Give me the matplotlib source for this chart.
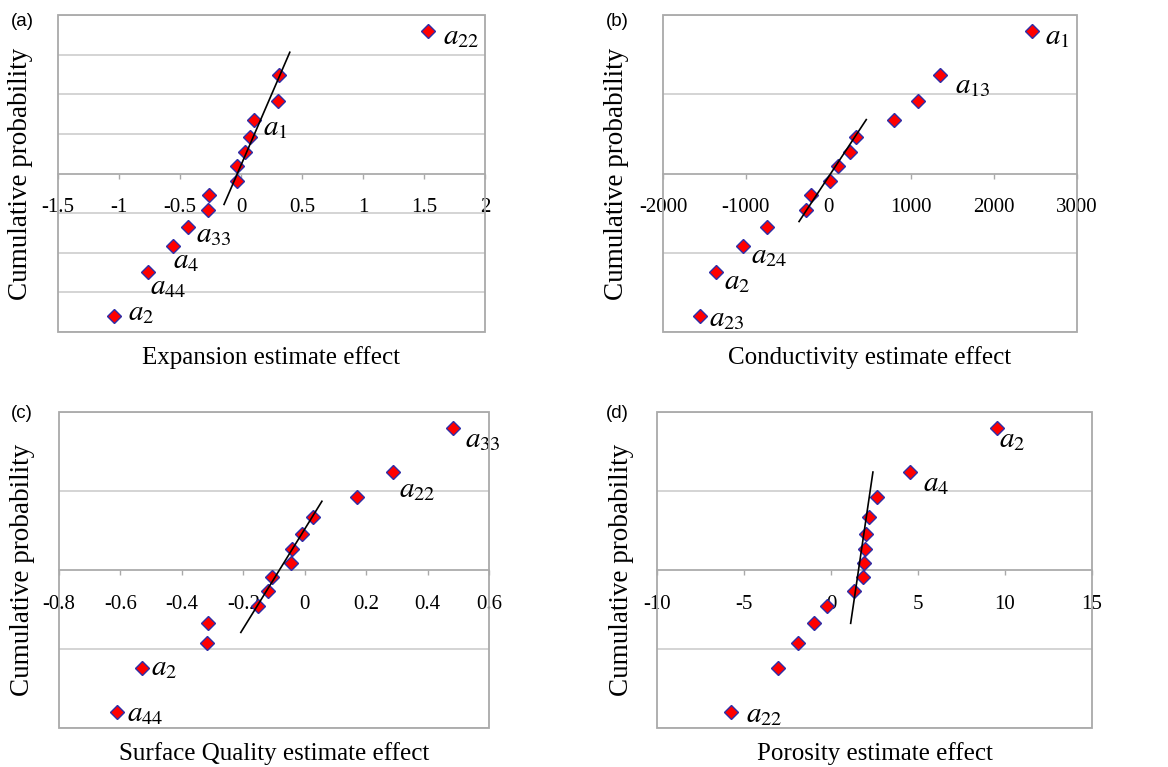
import matplotlib.pyplot as plt
from matplotlib.patches import Rectangle

plt.rcParams['font.family'] = ['Liberation Serif', 'DejaVu Serif']
plt.rcParams['mathtext.fontset'] = 'stix'
plt.rcParams['axes.unicode_minus'] = False

# %%
# Normal-score positions (same 14 ranks in every panel)
z_scores = [-1.80, -1.24, -0.92, -0.67, -0.46, -0.27, -0.09,
            0.09, 0.27, 0.46, 0.67, 0.92, 1.24, 1.80]

# Estimated effects, sorted ascending
exp_x = [-1.04, -0.765, -0.56, -0.432, -0.268, -0.26, -0.036,
         -0.030, 0.033, 0.074, 0.107, 0.306, 0.314, 1.535]
cond_x = [-1557, -1360, -1038, -748, -269, -216, 17,
          117, 255, 327, 790, 1083, 1345, 2453]
surf_x = [-0.610, -0.529, -0.317, -0.314, -0.153, -0.119, -0.106,
          -0.045, -0.042, -0.008, 0.026, 0.169, 0.2865, 0.484]
poro_x = [-5.73, -3.03, -1.90, -0.98, -0.21, 1.32, 1.84,
          1.90, 1.94, 1.99, 2.18, 2.66, 4.54, 9.52]

# Reference lines through the central effects
exp_fit_x, exp_fit_y = [-0.139, 0.40], [-0.39, 1.53]
cond_fit_x, cond_fit_y = [-357, 455], [-0.606, 0.68]
surf_fit_x, surf_fit_y = [-0.208, 0.056], [-0.79, 0.87]
poro_fit_x, poro_fit_y = [1.13, 2.41], [-0.675, 1.24]

# Labelled effects: rank index -> name
exp_labels = {13: '$a_{22}$', 10: '$a_1$', 3: '$a_{33}$', 2: '$a_4$', 1: '$a_{44}$', 0: '$a_2$'}
cond_labels = {13: '$a_1$', 12: '$a_{13}$', 2: '$a_{24}$', 1: '$a_2$', 0: '$a_{23}$'}
surf_labels = {13: '$a_{33}$', 12: '$a_{22}$', 1: '$a_2$', 0: '$a_{44}$'}
poro_labels = {13: '$a_2$', 12: '$a_4$', 0: '$a_{22}$'}

# X ticks
exp_ticks = [-1.5, -1, -0.5, 0, 0.5, 1, 1.5, 2]
exp_ticklabels = ['-1.5', '-1', '-0.5', '0', '0.5', '1', '1.5', '2']
cond_ticks = [-2000, -1000, 0, 1000, 2000, 3000]
cond_ticklabels = ['-2000', '-1000', '0', '1000', '2000', '3000']
surf_ticks = [-0.8, -0.6, -0.4, -0.2, 0, 0.2, 0.4, 0.6]
surf_ticklabels = ['-0.8', '-0.6', '-0.4', '-0.2', '0', '0.2', '0.4', '0.6']
poro_ticks = [-10, -5, 0, 5, 10, 15]
poro_ticklabels = ['-10', '-5', '0', '5', '10', '15']

# %%
# Layout (pixel based)
W, H = 1168, 767
fig = plt.figure(figsize=(W / 100, H / 100), dpi=100)


def px_axes(left, top, right, bottom):
    return fig.add_axes([left / W, 1 - bottom / H, (right - left) / W, (bottom - top) / H])


grid_c = '#c9c9c9'
frame_c = '#a9a9a9'

panels = [
    dict(box=(58, 15, 485, 332), x=exp_x, fx=exp_fit_x, fy=exp_fit_y, lab=exp_labels,
         offs={13: (15, -6), 10: (9, -8), 3: (8, -9), 2: (0, -15), 1: (2, -15), 0: (14, 3)},
         ticks=exp_ticks, tl=exp_ticklabels, ystep=0.5, letter='(a)', letter_xy=(11, 22),
         xlabel='Expansion estimate effect', ylx=-0.058),
    dict(box=(663, 15, 1077, 332), x=cond_x, fx=cond_fit_x, fy=cond_fit_y, lab=cond_labels,
         offs={13: (13, -6), 12: (15, -11), 2: (8, -10), 1: (8, -10), 0: (9, -3)},
         ticks=cond_ticks, tl=cond_ticklabels, ystep=1.0, letter='(b)', letter_xy=(606, 22),
         xlabel='Conductivity estimate effect', ylx=-0.082),
    dict(box=(59, 412, 489, 728), x=surf_x, fx=surf_fit_x, fy=surf_fit_y, lab=surf_labels,
         offs={13: (12, -12), 12: (6, -18), 1: (9, 0), 0: (10, -2)},
         ticks=surf_ticks, tl=surf_ticklabels, ystep=1.0, letter='(c)', letter_xy=(11, 414),
         xlabel='Surface Quality estimate effect', ylx=-0.055),
    dict(box=(657, 412, 1092, 728), x=poro_x, fx=poro_fit_x, fy=poro_fit_y, lab=poro_labels,
         offs={13: (2, -12), 12: (13, -12), 0: (15, -3)},
         ticks=poro_ticks, tl=poro_ticklabels, ystep=1.0, letter='(d)', letter_xy=(606, 414),
         xlabel='Porosity estimate effect', ylx=-0.052),
]

for p in panels:
    ax = px_axes(*p['box'])
    ax.set_xlim(p['ticks'][0], p['ticks'][-1])
    ax.set_ylim(-2, 2)

    # horizontal grid
    n = int(round(4 / p['ystep']))
    ax.set_yticks([-2 + i * p['ystep'] for i in range(n + 1)])
    ax.yaxis.grid(True, color=grid_c, lw=1.1)
    ax.tick_params(axis='y', length=0, labelleft=False)

    # x axis crossing at zero, frame drawn separately
    for s in ['top', 'left', 'right']:
        ax.spines[s].set_visible(False)
    ax.spines['bottom'].set_position(('data', 0))
    ax.spines['bottom'].set_color(frame_c)
    ax.spines['bottom'].set_linewidth(1.1)
    ax.add_patch(Rectangle((0, 0), 1, 1, transform=ax.transAxes, fill=False,
                           ec=frame_c, lw=1.3, clip_on=False, zorder=5))
    ax.set_xticks(p['ticks'])
    ax.set_xticklabels(p['tl'])
    ax.tick_params(axis='x', direction='out', length=3.5, width=1, color=frame_c,
                   pad=14.5, labelsize=15)

    ax.plot(p['x'], z_scores, ls='none', marker='D', ms=7.3, mfc='#ff0000',
            mec='#2e2ea8', mew=1.0, zorder=3)
    ax.plot(p['fx'], p['fy'], color='black', lw=1.2, zorder=4)

    for i, name in p['lab'].items():
        ax.annotate(name, (p['x'][i], z_scores[i]), xytext=p['offs'][i],
                    textcoords='offset pixels', ha='left', va='center', fontsize=21)

    ax.set_xlabel(p['xlabel'], fontsize=18)
    ax.xaxis.set_label_coords(0.5, -0.045)
    ax.set_ylabel('Cumulative probability', fontsize=19.5)
    ax.yaxis.set_label_coords(p['ylx'], 0.5)

    fig.text(p['letter_xy'][0] / W, 1 - p['letter_xy'][1] / H, p['letter'],
             family=['Liberation Sans', 'DejaVu Sans'], fontsize=13.5,
             ha='left', va='center')

fig.savefig('out.png', dpi=100)
